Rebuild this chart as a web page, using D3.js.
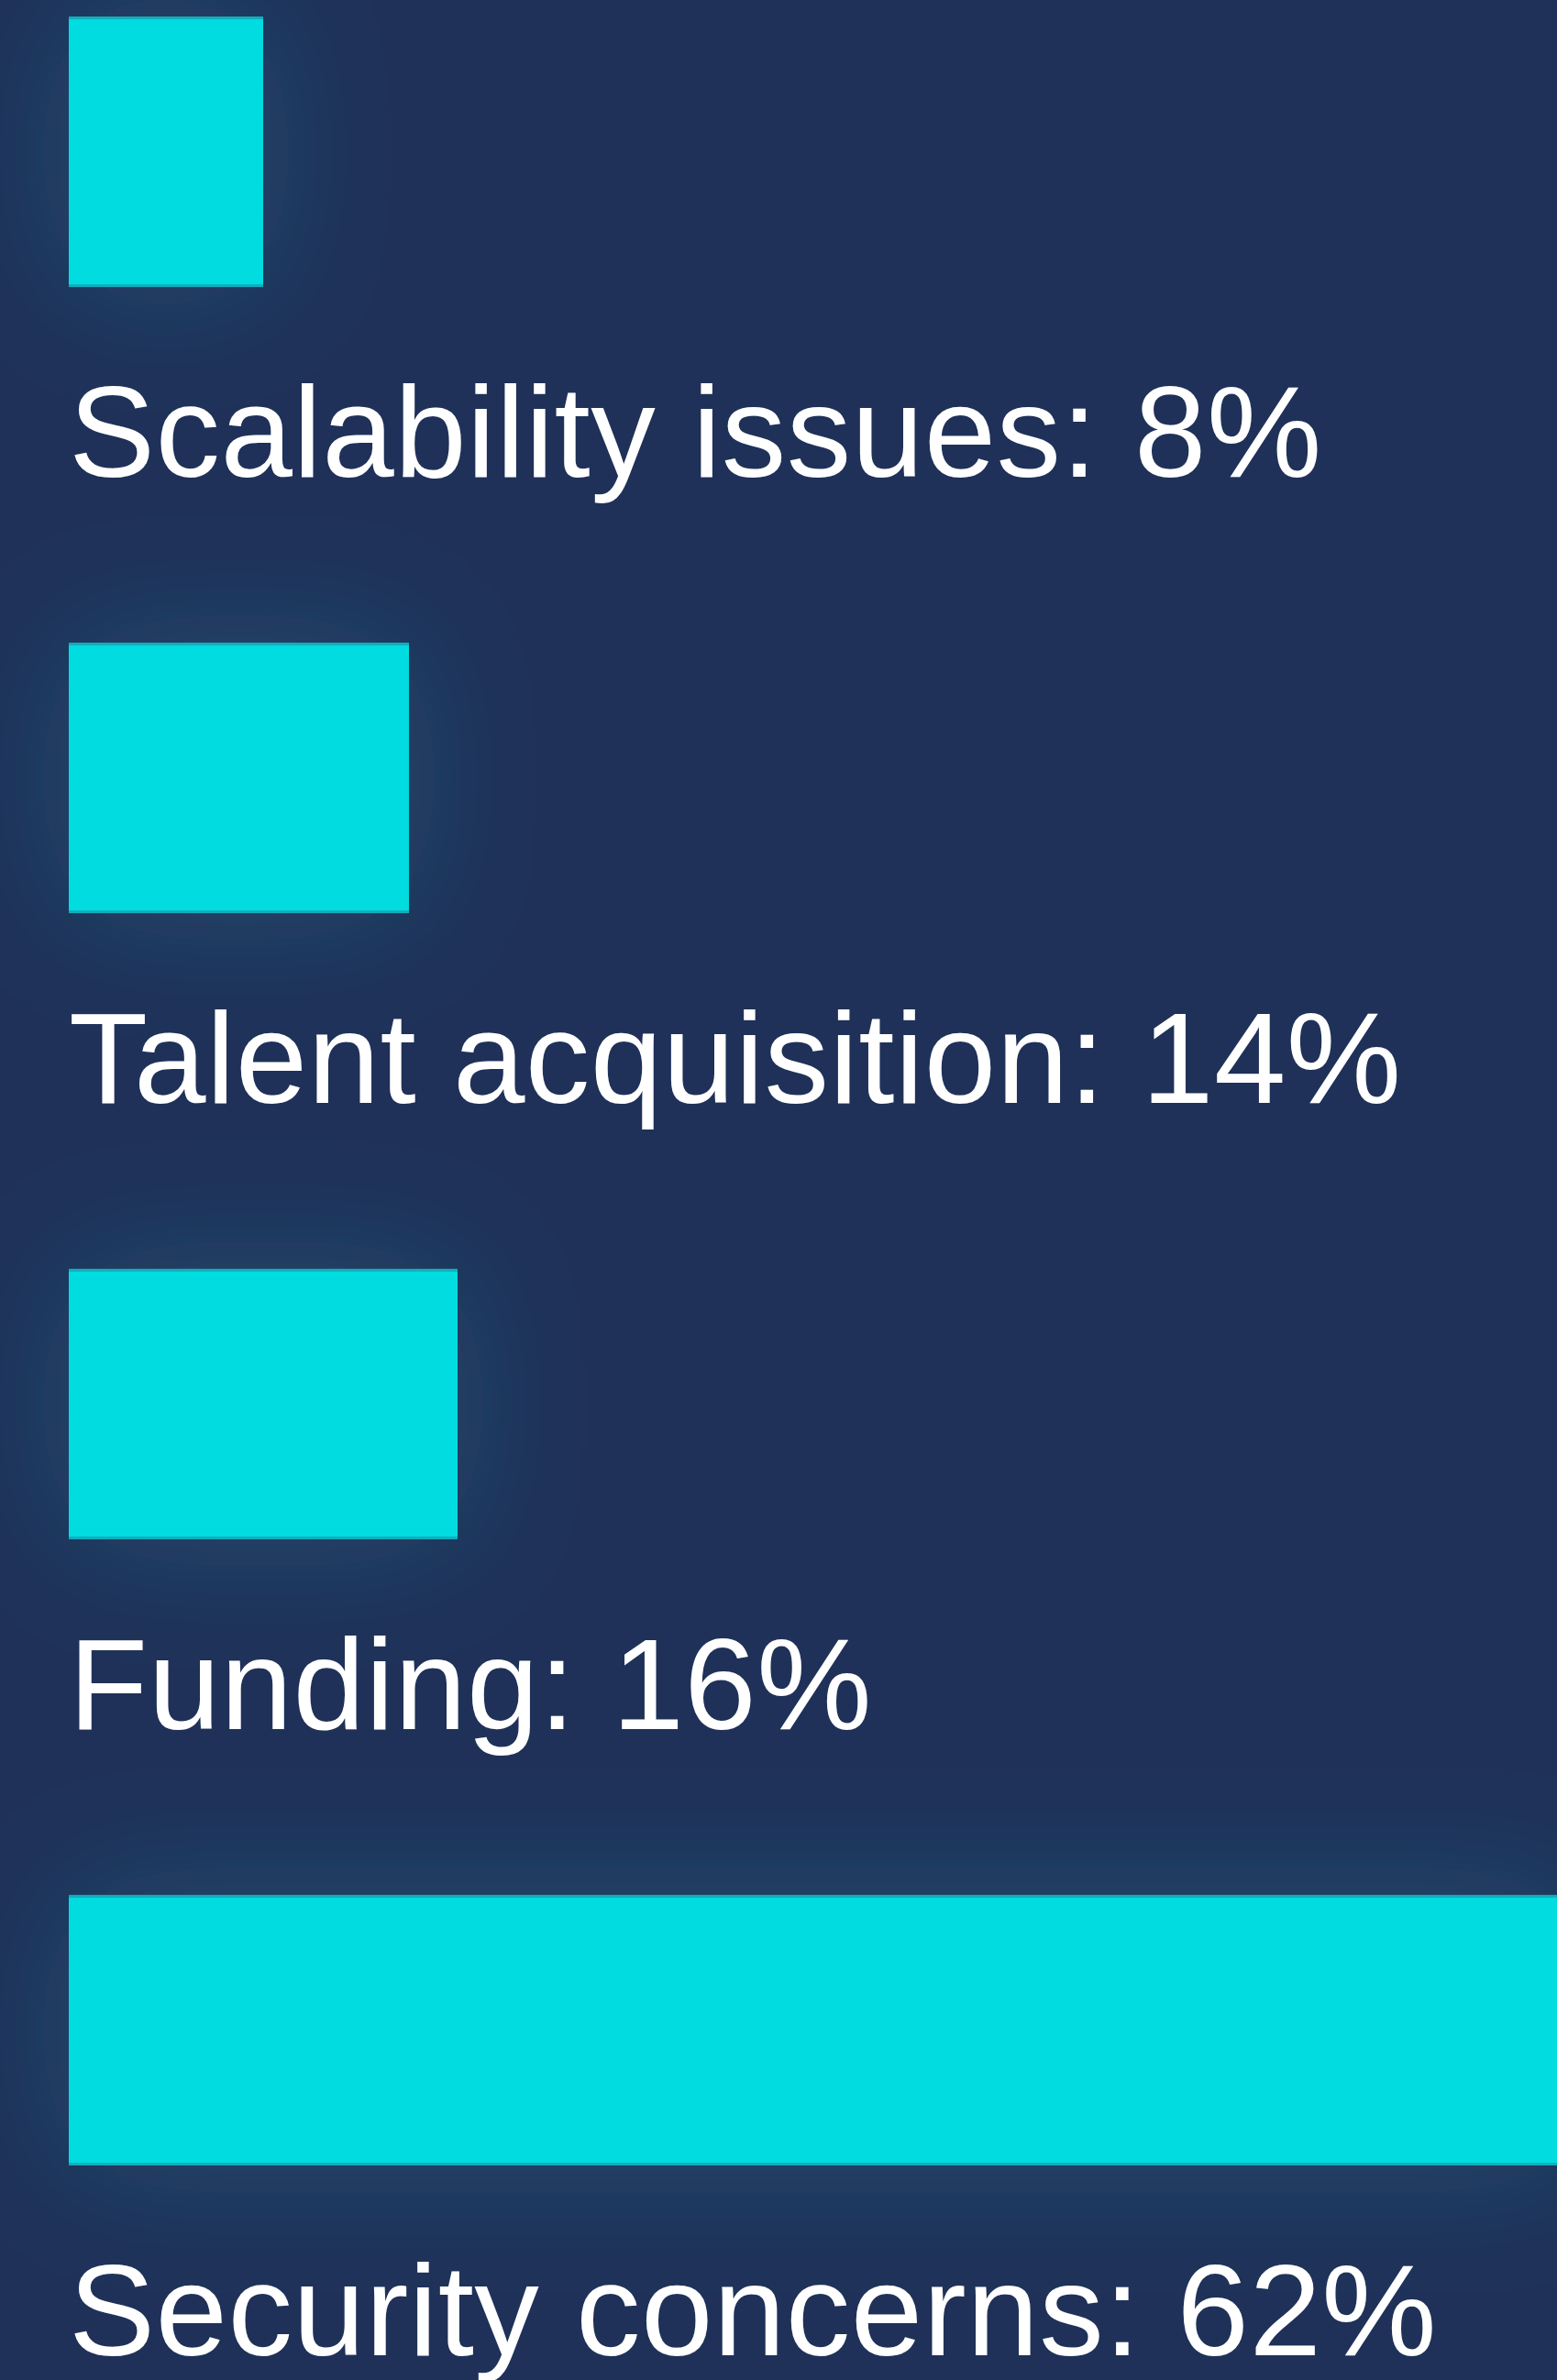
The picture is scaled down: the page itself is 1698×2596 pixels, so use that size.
<!DOCTYPE html>
<html>
<head>
<meta charset="utf-8">
<script src="https://cdn.jsdelivr.net/npm/d3@7"></script>
<style>
  body { margin: 0; background: #1f3158; }
  svg { display: block; }
</style>
</head>
<body>
<div id="chart"></div>
<script>
// data
var categories = ["Scalability issues", "Talent acquisition", "Funding", "Security concerns"];
var values = [8, 14, 16, 62];

var width = 1698, height = 2596;

var svg = d3.select("#chart").append("svg")
    .attr("width", width)
    .attr("height", height);

var defs = svg.append("defs");

// soft teal glow around the bars
var glow = defs.append("filter")
    .attr("id", "glow")
    .attr("x", "-80%").attr("y", "-80%")
    .attr("width", "260%").attr("height", "260%");
glow.append("feGaussianBlur")
    .attr("in", "SourceAlpha")
    .attr("stdDeviation", 75)
    .attr("result", "blur");
glow.append("feFlood")
    .attr("flood-color", "#2fb8c8")
    .attr("flood-opacity", 0.2);
glow.append("feComposite")
    .attr("in2", "blur")
    .attr("operator", "in")
    .attr("result", "shadow");
var merge = glow.append("feMerge");
merge.append("feMergeNode").attr("in", "shadow");
merge.append("feMergeNode").attr("in", "SourceGraphic");

svg.append("rect")
    .attr("width", width)
    .attr("height", height)
    .attr("fill", "#1f3158");

var x = d3.scaleLinear()
    .domain([0, 100])
    .range([75, 75 + 2650]);

var y = d3.scaleBand()
    .domain(categories)
    .range([18, 2362])
    .paddingInner(0.568)
    .paddingOuter(0);

var rows = svg.append("g")
  .selectAll("g")
  .data(categories)
  .enter().append("g")
    .attr("class", "row");

rows.append("rect")
    .attr("x", x(0))
    .attr("y", function(d) { return y(d); })
    .attr("width", function(d, i) { return x(values[i]) - x(0); })
    .attr("height", y.bandwidth())
    .attr("fill", "#00dce0")
    .attr("filter", "url(#glow)");

// thin darker edges on top and bottom of each bar
rows.append("rect")
    .attr("x", x(0))
    .attr("y", function(d) { return y(d); })
    .attr("width", function(d, i) { return x(values[i]) - x(0); })
    .attr("height", 3)
    .attr("fill", "#12aebd");

rows.append("rect")
    .attr("x", x(0))
    .attr("y", function(d) { return y(d) + y.bandwidth() - 3; })
    .attr("width", function(d, i) { return x(values[i]) - x(0); })
    .attr("height", 3)
    .attr("fill", "#12aebd");

rows.append("text")
    .attr("x", x(0))
    .attr("y", function(d) { return y(d) + 502; })
    .attr("fill", "#ffffff")
    .style("font-family", "'Liberation Sans', Arial, sans-serif")
    .style("font-size", "141px")
    .style("letter-spacing", "0.5px")
    .text(function(d, i) { return d + ": " + values[i] + "%"; });
</script>
</body>
</html>
